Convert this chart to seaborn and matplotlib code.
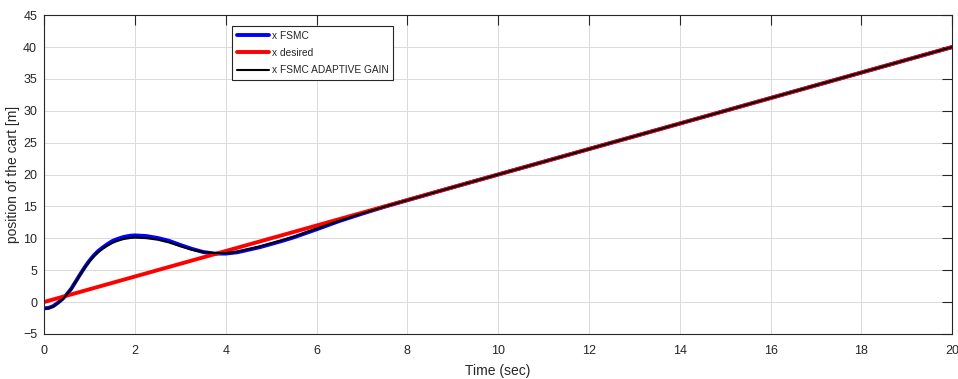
import pandas as pd
import matplotlib
matplotlib.use("Agg")
import matplotlib.pyplot as plt
import seaborn as sns

# time samples (sec)
t = [0.0, 0.1, 0.2, 0.3, 0.4, 0.5, 0.6, 0.7, 0.8, 0.9, 1.0, 1.1, 1.2, 1.3, 1.4,
     1.5, 1.6, 1.75, 1.9, 2.0, 2.25, 2.5, 2.75, 3.0, 3.25, 3.5, 3.75, 4.0, 4.25,
     4.5, 4.75, 5.0, 5.25, 5.5, 6.0, 6.5, 7.0, 7.5, 8.0, 9.0, 20.0]

x_fsmc = [-1.0, -0.92, -0.65, -0.15, 0.45, 1.2, 2.1, 3.25, 4.4, 5.5, 6.5, 7.35,
          8.05, 8.6, 9.1, 9.55, 9.85, 10.2, 10.4, 10.45, 10.35, 10.05, 9.6, 8.95,
          8.35, 7.85, 7.6, 7.6, 7.8, 8.2, 8.6, 9.1, 9.6, 10.15, 11.4, 12.7, 13.85,
          14.95, 15.97, 18.0, 40.0]

x_adaptive = [-1.05, -0.97, -0.7, -0.2, 0.4, 1.15, 2.05, 3.2, 4.35, 5.45, 6.4, 7.2,
              7.85, 8.4, 8.85, 9.25, 9.55, 9.88, 10.05, 10.1, 10.02, 9.78, 9.35, 8.75,
              8.2, 7.85, 7.68, 7.68, 7.88, 8.28, 8.7, 9.2, 9.7, 10.25, 11.5, 12.76,
              13.88, 14.96, 15.98, 18.0, 40.0]

t_des = [0.0, 20.0]
x_des = [0.0, 40.0]

sns.set_style("white")
plt.rcParams['font.family'] = ['Liberation Sans', 'DejaVu Sans']

fig = plt.figure(figsize=(9.58, 3.79), dpi=100)
ax = fig.add_axes([0.046, 0.119, 0.948, 0.841])

sns.lineplot(x=t, y=x_fsmc, color='#0000ff', linewidth=2.8, label='x FSMC', ax=ax)
sns.lineplot(x=t_des, y=x_des, color='#ff0000', linewidth=2.8, label='x desired', ax=ax)
sns.lineplot(x=t, y=x_adaptive, color='black', linewidth=1.5, label='x FSMC ADAPTIVE GAIN', ax=ax)

ax.set_xlim(0, 20)
ax.set_ylim(-5, 45)
ax.set_xticks(range(0, 21, 2))
ax.set_yticks(range(-5, 46, 5))
ax.grid(True, color='#dadada', linewidth=0.7)
ax.set_axisbelow(True)

dark = '#262626'
for s in ax.spines.values():
    s.set_color(dark)
    s.set_linewidth(0.8)
ax.tick_params(direction='in', top=True, right=True, length=7, width=0.8,
               colors=dark, labelcolor=dark, labelsize=9, pad=5)
ax.tick_params(axis='x', pad=8)

ax.set_xlabel('Time (sec)', fontsize=10, color=dark, labelpad=5)
ax.set_ylabel('position of the cart [m]', fontsize=10, color=dark, labelpad=2)

leg = ax.legend(loc='upper left', bbox_to_anchor=(0.207, 0.965), fontsize=7.3,
                frameon=True, fancybox=False, borderpad=0.45, labelspacing=0.7,
                handlelength=3.2, handletextpad=0.25, borderaxespad=0)
leg.get_frame().set_edgecolor(dark)
leg.get_frame().set_linewidth(0.8)
leg.get_frame().set_alpha(1)

fig.savefig("out.png", dpi=100)
